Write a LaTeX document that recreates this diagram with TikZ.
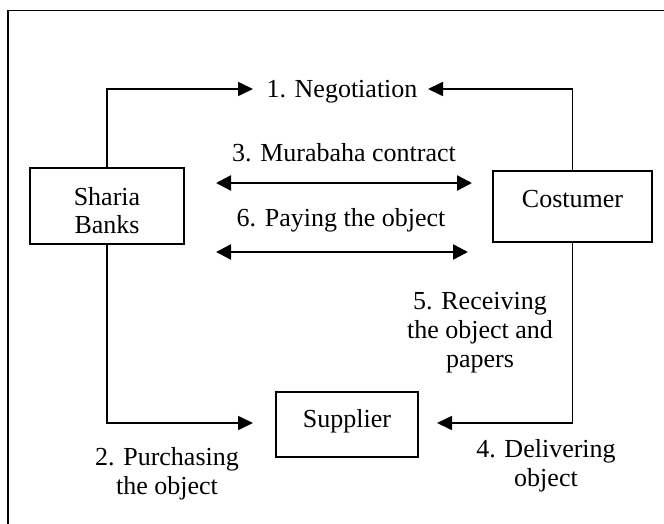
\documentclass[tikz,border=0pt]{standalone}
\usepackage{fontspec}
\setmainfont{Liberation Serif}
\usetikzlibrary{arrows.meta}
\begin{document}
\begin{tikzpicture}[x=1pt,y=-1pt,
  txt/.style={font=\fontsize{26}{29}\selectfont, align=center, inner sep=0pt},
  box/.style={txt, draw, line width=1.3pt},
  conn/.style={line width=1.7pt, -{Triangle[length=15pt,width=14pt]}},
  dbl/.style={line width=2.4pt, {Triangle[length=15pt,width=15pt]}-{Triangle[length=15pt,width=15pt]}},
  frame/.style={line width=1.3pt}]
\useasboundingbox (0,0) rectangle (664,524);
% frame (open to the right and bottom)
\coordinate (ftr) at (664,10.5);
\coordinate (ftl) at (8,10.5);
\coordinate (fbl) at (8,524);
\draw[frame] (ftr) -- (ftl) -- (fbl);
% boxes
\node[box, minimum width=154pt, minimum height=76pt] (sb) at (107,206)
  {\raisebox{1pt}[0pt][0pt]{\begin{tabular}[t]{@{}c@{}}Sharia\\Banks\end{tabular}}};
\node[box, minimum width=159pt, minimum height=71pt] (cu) at (572.5,206.5)
  {\raisebox{-0.5pt}[0pt][0pt]{Costumer}};
\node[box, minimum width=142pt, minimum height=65pt] (su) at (347,424.5)
  {\raisebox{-2.5pt}[0pt][0pt]{Supplier}};
% labels
\node[txt] (neg) at (342,92) {1. Negotiation};
\node[txt] (mur) at (344,152.5) {3. Murabaha contract};
\node[txt] (pay) at (341,220.5) {6. Paying the object};
\node[txt] (rec) at (480,333) {5. Receiving\\the object and\\papers};
\node[txt] (pur) at (167,474) {2. Purchasing\\the object};
\node[txt] (del) at (546,465.5) {4. Delivering\\object};
% connector end points
\coordinate (negl) at (253,89);
\coordinate (negr) at (428,89);
\coordinate (a1l) at (216,183);
\coordinate (a1r) at (472,183);
\coordinate (a2l) at (216,252);
\coordinate (a2r) at (468,252);
\coordinate (sul) at (253,423);
\coordinate (sur) at (437,423);
% connectors
\draw[conn] (sb.north) |- (negl);
\draw[conn] (cu.north) |- (negr);
\draw[dbl] (a1l) -- (a1r);
\draw[dbl] (a2l) -- (a2r);
\draw[conn] (sb.south) |- (sul);
\draw[conn] (cu.south) |- (sur);
\end{tikzpicture}
\end{document}
